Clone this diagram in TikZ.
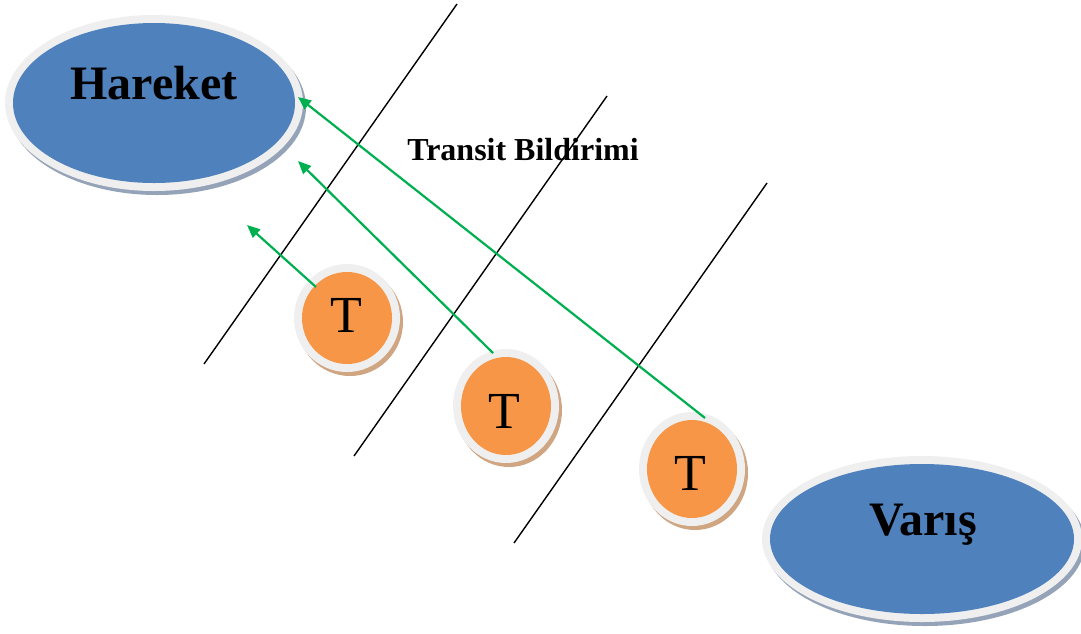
\documentclass[tikz,border=0pt]{standalone}
\usepackage{fontspec}
\setmainfont{Liberation Serif}
\usetikzlibrary{arrows.meta}
\definecolor{ovalblue}{HTML}{4F81BD}
\definecolor{ringgray}{HTML}{EFEFEF}
\definecolor{ovalshadow}{HTML}{95A3B8}
\definecolor{tokenorange}{HTML}{F79646}
\definecolor{tokenshadow}{HTML}{CFA582}
\definecolor{msggreen}{HTML}{00B050}
\tikzset{
  x=1pt, y=-1pt,
  border line/.style={black, line width=1.4pt},
  msg/.style={msggreen, line width=2.2pt, -{Triangle[length=13pt,width=11pt]}},
  oval label/.style={font=\fontsize{48}{52}\selectfont\bfseries, anchor=base},
  token label/.style={font=\fontsize{52}{56}\selectfont, anchor=base},
}
% oval with a light ring and a soft drop shadow
\newcommand{\ringoval}[6]{% x, y, rx, ry, fill, shadow
  \fill[#6] (#1+3,#2+4) ellipse [x radius=#3+8, y radius=#4+8];
  \fill[ringgray] (#1,#2) ellipse [x radius=#3+8, y radius=#4+8];
  \fill[#5] (#1,#2) ellipse [x radius=#3, y radius=#4];
}
\begin{document}
\begin{tikzpicture}
\useasboundingbox (0,0) rectangle (1081,633);

% departure and arrival ovals
\ringoval{154}{103}{141}{80}{ovalblue}{ovalshadow}
\ringoval{922}{539}{152}{75}{ovalblue}{ovalshadow}
\node[oval label] (hareket) at (154,99) {Hareket};
\node[oval label] (varis) at (923,535) {Varış};

% boundary lines
\coordinate (b1a) at (457,4);   \coordinate (b1b) at (204,364);
\coordinate (b2a) at (607,96);  \coordinate (b2b) at (354,456);
\coordinate (b3a) at (767,183); \coordinate (b3b) at (514,543);
\draw[border line] (b1a) -- (b1b);
\draw[border line] (b2a) -- (b2b);
\draw[border line] (b3a) -- (b3b);

% transit tokens
\ringoval{347}{318}{45}{46}{tokenorange}{tokenshadow}
\ringoval{506}{406}{45}{49}{tokenorange}{tokenshadow}
\ringoval{692}{469}{45}{49}{tokenorange}{tokenshadow}
\node[token label] (t1) at (346,332) {T};
\node[token label] (t2) at (504,428) {T};
\node[token label] (t3) at (690,490) {T};

\node[font=\fontsize{32}{35}\selectfont\bfseries, anchor=base] (transit) at (523,160) {Transit Bildirimi};

% transit notifications
\coordinate (s1) at (316,287); \coordinate (e1) at (247,225);
\coordinate (s2) at (493,353); \coordinate (e2) at (298,161);
\coordinate (s3) at (705,418); \coordinate (e3) at (298,97);
\draw[msg] (s1) -- (e1);
\draw[msg] (s2) -- (e2);
\draw[msg] (s3) -- (e3);
\end{tikzpicture}
\end{document}
